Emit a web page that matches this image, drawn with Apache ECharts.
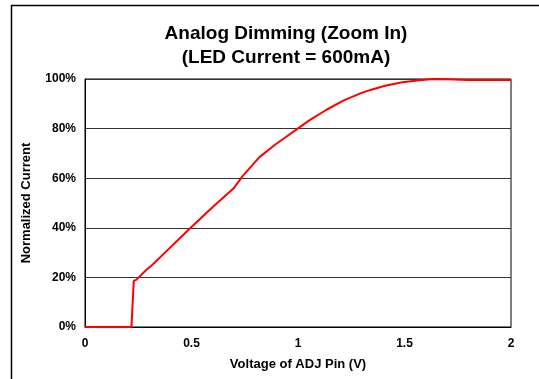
<!DOCTYPE html>
<html>
<head>
<meta charset="utf-8">
<script src="https://cdn.jsdelivr.net/npm/echarts@6/dist/echarts.min.js"></script>
<style>
html,body{margin:0;padding:0;background:#fff;}
#main{width:539px;height:379px;}
</style>
</head>
<body>
<div id="main"></div>
<script>
var titleLines = ['Analog Dimming (Zoom In)', '(LED Current = 600mA)'];
var xAxisName = 'Voltage of ADJ Pin (V)';
var yAxisName = 'Normalized Current';
var voltage = [0, 0.218, 0.229, 0.242, 0.286, 0.318, 0.391, 0.439, 0.501, 0.601, 0.698, 0.738, 0.819, 0.892, 0.940, 1.002, 1.053, 1.134, 1.215, 1.296, 1.344, 1.409, 1.490, 1.570, 1.635, 1.700, 1.796, 2.0];
var current = [0, 0, 18.6, 19.1, 22.9, 25.2, 31.3, 35.3, 40.4, 48.5, 55.9, 60.6, 68.5, 73.5, 76.4, 80.2, 83.3, 87.6, 91.4, 94.3, 95.7, 97.3, 98.7, 99.5, 100, 99.9, 99.6, 99.6];

var data = voltage.map(function (v, i) { return [v, current[i]]; });
var chart = echarts.init(document.getElementById('main'));
var font = 'Liberation Sans, Arial, sans-serif';
chart.setOption({
  animation: false,
  backgroundColor: '#fff',
  title: {
    text: titleLines.join('\n'),
    left: 281,
    top: 17,
    textAlign: 'center',
    textStyle: { fontFamily: font, fontWeight: 'bold', fontSize: 19, lineHeight: 24, color: '#000' }
  },
  graphic: [{
    type: 'rect',
    shape: { x: 11.5, y: 5.5, width: 600, height: 500 },
    style: { fill: 'none', stroke: '#000', lineWidth: 1.5 },
    silent: true
  }],
  grid: { left: 85, right: 28, top: 79, bottom: 52, show: true, borderColor: '#000', borderWidth: 1, backgroundColor: 'transparent' },
  xAxis: {
    type: 'value', min: 0, max: 2, interval: 0.5,
    name: xAxisName, nameLocation: 'middle', nameGap: 31,
    nameTextStyle: { fontFamily: font, fontWeight: 'bold', fontSize: 13, color: '#000' },
    axisLine: { show: true, lineStyle: { color: '#000', width: 1 } },
    axisTick: { show: false },
    splitLine: { show: false },
    axisLabel: { fontFamily: font, fontWeight: 'bold', fontSize: 12, color: '#000', margin: 11 }
  },
  yAxis: {
    type: 'value', min: 0, max: 100, interval: 20,
    name: yAxisName, nameLocation: 'middle', nameGap: 52, nameRotate: 90,
    nameTextStyle: { fontFamily: font, fontWeight: 'bold', fontSize: 13, color: '#000' },
    axisLine: { show: true, lineStyle: { color: '#000', width: 1 } },
    axisTick: { show: false },
    splitLine: { show: true, lineStyle: { color: '#333', width: 1 } },
    axisLabel: { fontFamily: font, fontWeight: 'bold', fontSize: 12, color: '#000', margin: 9, formatter: '{value}%' }
  },
  series: [{
    type: 'line',
    data: data,
    showSymbol: false,
    smooth: false,
    lineStyle: { color: '#ff0000', width: 2 },
    itemStyle: { color: '#ff0000' }
  }]
});
</script>
</body>
</html>
